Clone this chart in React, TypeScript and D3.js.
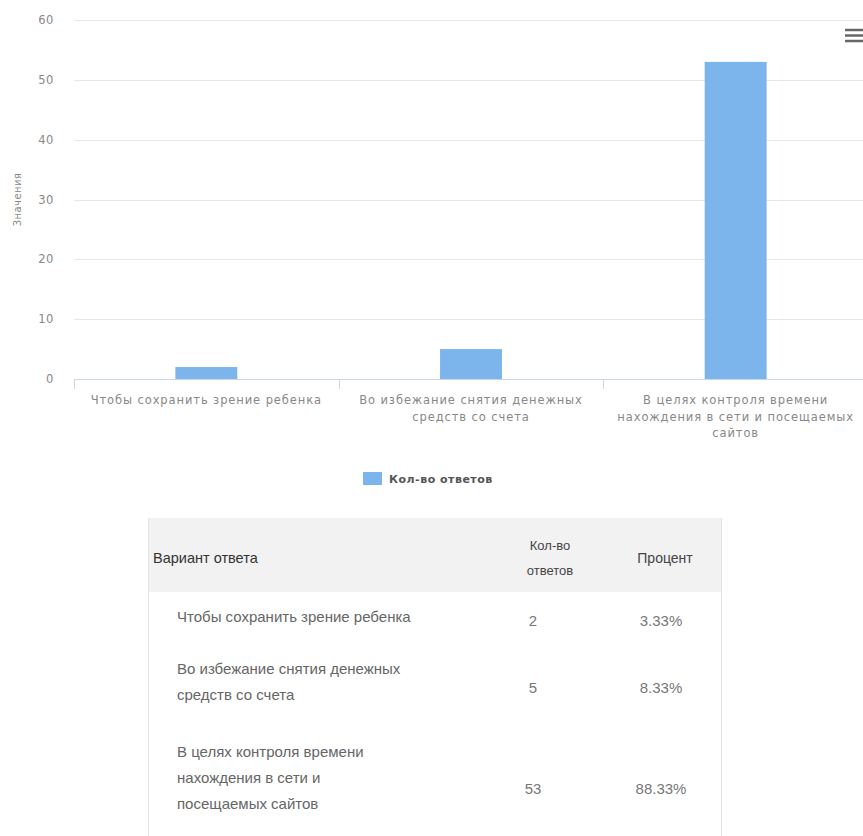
import React from "react";
import * as d3 from "d3";

const categories = [
  "Чтобы сохранить зрение ребенка",
  "Во избежание снятия денежных средств со счета",
  "В целях контроля времени нахождения в сети и посещаемых сайтов",
];
const xLabelLines = [
  ["Чтобы сохранить зрение ребенка"],
  ["Во избежание снятия денежных", "средств со счета"],
  ["В целях контроля времени", "нахождения в сети и посещаемых", "сайтов"],
];
const counts = [2, 5, 53];
const percents = ["3.33%", "8.33%", "88.33%"];
const yTicks = [0, 10, 20, 30, 40, 50, 60];
const seriesName = "Кол-во ответов";
const yTitle = "Значения";
const headerCol1 = "Вариант ответа";
const headerCol2 = ["Кол-во", "ответов"];
const headerCol3 = "Процент";
const tableRowLines = [
  ["Чтобы сохранить зрение ребенка"],
  ["Во избежание снятия денежных", "средств со счета"],
  ["В целях контроля времени", "нахождения в сети и", "посещаемых сайтов"],
];

const W = 863;
const H = 836;
const chartFont = "'DejaVu Sans', Verdana, sans-serif";
const tableFont = "'Liberation Sans', Arial, sans-serif";

export default function App() {
  const x = d3.scaleBand<string>().domain(categories).range([74, 868]).padding(0);
  const y = d3.scaleLinear().domain([0, 60]).range([379, 20]);
  const barW = x.bandwidth() * 0.234;

  // table layout
  const tLeft = 148;
  const tRight = 721;
  const headTop = 518;
  const headBottom = 592;
  const rowTops = [592, 650, 726];
  const rowBottoms = [650, 726, 852];
  const rowTextStart = [617, 669, 752];
  const col2 = 533;
  const col3 = 661;

  return (
    <svg
      width={W}
      height={H}
      style={{ position: "absolute", left: 0, top: 0, background: "#fff" }}
    >
      <rect x={0} y={0} width={W} height={H} fill="#fff" />
      {/* grid */}
      {yTicks.map((t) =>
        t === 0 ? null : (
          <line key={"g" + t} x1={74} x2={868} y1={Math.round(y(t)) + 0.5} y2={Math.round(y(t)) + 0.5} stroke="#e6e6e6" strokeWidth={1} />
        )
      )}
      {/* y tick labels */}
      {yTicks.map((t) => (
        <text key={"yt" + t} x={54} y={y(t)} dy="0.35em" textAnchor="end" fontFamily={chartFont} fontSize={11.5} letterSpacing={0.6} fill="#888">
          {t}
        </text>
      ))}
      <text
        transform={`translate(17,${(y(0) + y(60)) / 2}) rotate(-90)`}
        textAnchor="middle"
        dy="0.35em"
        fontFamily={chartFont}
        fontSize={10}
        letterSpacing={0.4}
        fill="#888"
      >
        {yTitle}
      </text>
      {/* bars */}
      {categories.map((c, i) => (
        <rect
          key={"b" + i}
          x={(x(c) as number) + x.bandwidth() / 2 - barW / 2}
          y={y(counts[i])}
          width={barW}
          height={y(0) - y(counts[i])}
          fill="#7cb5ec"
        />
      ))}
      {/* x axis */}
      <line x1={74} x2={868} y1={379.5} y2={379.5} stroke="#ccd6eb" />
      {[...categories.map((c) => x(c) as number), 868].map((v, i) => (
        <line key={"xt" + i} x1={Math.round(v) + 0.5} x2={Math.round(v) + 0.5} y1={379} y2={389} stroke="#ccd6eb" />
      ))}
      {categories.map((c, i) =>
        xLabelLines[i].map((ln, j) => (
          <text
            key={"xl" + i + "-" + j}
            x={(x(c) as number) + x.bandwidth() / 2}
            y={400 + j * 16.5}
            dy="0.35em"
            textAnchor="middle"
            fontFamily={chartFont}
            fontSize={11.5}
            letterSpacing={0.9}
            fill="#888"
          >
            {ln}
          </text>
        ))
      )}
      {/* menu icon */}
      {[30, 35.5, 41].map((v, i) => (
        <line key={"m" + i} x1={845} x2={866} y1={v} y2={v} stroke="#666" strokeWidth={2.5} />
      ))}
      {/* legend */}
      <rect x={363} y={472} width={19} height={13} fill="#7cb5ec" />
      <text x={389} y={479} dy="0.35em" fontFamily={chartFont} fontSize={11} fontWeight="bold" letterSpacing={0.5} fill="#555">
        {seriesName}
      </text>

      {/* table */}
      <rect x={tLeft} y={headTop} width={tRight - tLeft} height={headBottom - headTop} fill="#f2f2f2" />
      <line x1={tLeft + 0.5} x2={tLeft + 0.5} y1={headTop} y2={H} stroke="#e4e4e4" />
      <line x1={tRight + 0.5} x2={tRight + 0.5} y1={headTop} y2={H} stroke="#e4e4e4" />
      <text x={153} y={558} dy="0.35em" fontFamily={tableFont} fontSize={14.5} fill="#333">
        {headerCol1}
      </text>
      {headerCol2.map((ln, j) => (
        <text key={"h2" + j} x={550} y={545 + j * 25} dy="0.35em" textAnchor="middle" fontFamily={tableFont} fontSize={13} fill="#444">
          {ln}
        </text>
      ))}
      <text x={665} y={558} dy="0.35em" textAnchor="middle" fontFamily={tableFont} fontSize={14} fill="#444">
        {headerCol3}
      </text>
      {tableRowLines.map((lines, i) => (
        <g key={"r" + i}>
          {lines.map((ln, j) => (
            <text key={j} x={177} y={rowTextStart[i] + j * 26} dy="0.35em" fontFamily={tableFont} fontSize={15} fill="#666">
              {ln}
            </text>
          ))}
          <text x={col2} y={(rowTops[i] + rowBottoms[i]) / 2} dy="0.35em" textAnchor="middle" fontFamily={tableFont} fontSize={15} fill="#777">
            {counts[i]}
          </text>
          <text x={col3} y={(rowTops[i] + rowBottoms[i]) / 2} dy="0.35em" textAnchor="middle" fontFamily={tableFont} fontSize={15} fill="#777">
            {percents[i]}
          </text>
        </g>
      ))}
    </svg>
  );
}
